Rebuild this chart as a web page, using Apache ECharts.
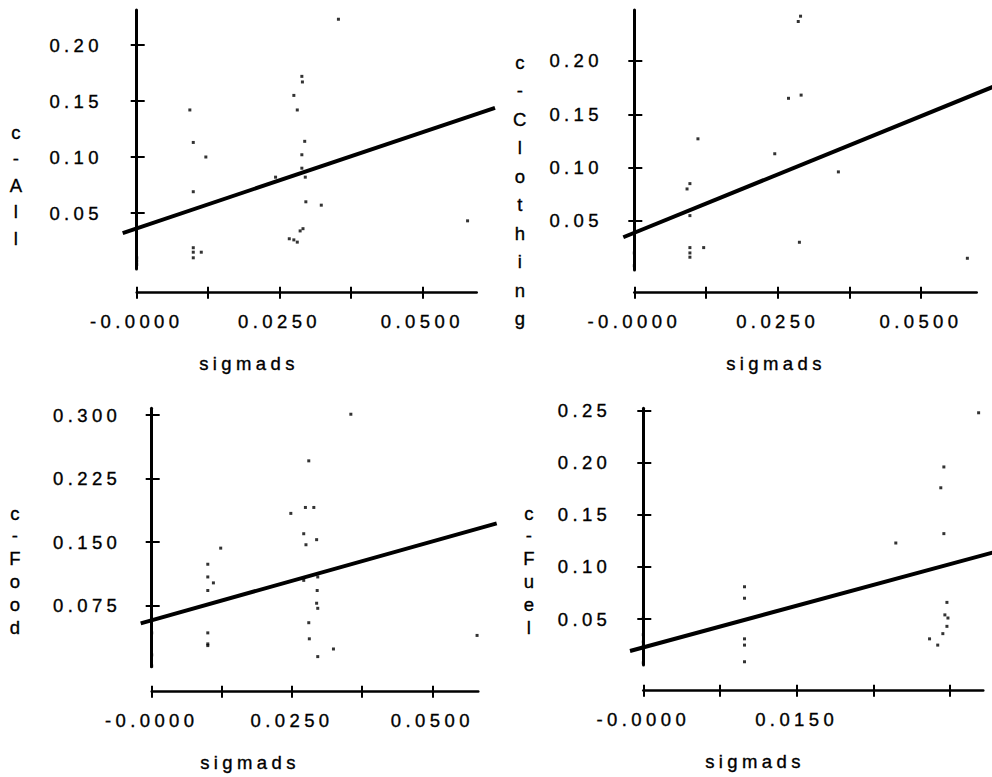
<!DOCTYPE html>
<html><head><meta charset="utf-8">
<script src="https://cdn.jsdelivr.net/npm/echarts@6/dist/echarts.min.js"></script>
<style>
html,body{margin:0;padding:0;background:#fff;}
#c{width:992px;height:777px;}
#c text{letter-spacing:4.4px;stroke:#000;stroke-width:0.35px;}
</style></head><body><div id="c"></div>
<script>
// ---------- data ----------
const sigmadsAll = [0.0353,0.0289,0.0290,0.0275,0.0281,0.0093,0.0099,0.0294,0.0121,0.0289,0.0243,0.0289,0.0295,0.0099,0.0296,0.0323,0.0579,0.0291,0.0286,0.0267,0.0275,0.0281,0.0099,0.0099,0.0099,0.0113,0,0,0];
const cAll = [0.223,0.172,0.167,0.155,0.142,0.142,0.113,0.114,0.100,0.102,0.082,0.090,0.082,0.069,0.060,0.057,0.043,0.036,0.034,0.027,0.026,0.024,0.019,0.015,0.010,0.015,0.010,0.007,0.004];
const fitAll = [[-0.00245,0.0321],[0.0627,0.1438]];

const sigmadsClothing = [0.0290,0.0286,0.0269,0.0291,0.0111,0.0245,0.0356,0.0097,0.0092,0.0097,0.0288,0.0121,0.0097,0.0097,0.0097,0,0,0.0581];
const cClothing = [0.242,0.237,0.165,0.168,0.127,0.113,0.096,0.085,0.080,0.055,0.030,0.025,0.025,0.020,0.016,0.020,0.008,0.015];
const fitClothing = [[-0.00192,0.0347],[0.0632,0.1771]];

const sigmadsFood = [0.0355,0.0280,0.0248,0.0274,0.0289,0.0271,0.0275,0.0294,0.0123,0.0100,0.0100,0.0110,0.0100,0.0271,0.0296,0.0295,0.0294,0.0296,0.0280,0.0281,0.0296,0.0324,0.0580,0.0100,0.0100,0.0100,0,0,0];
const cFood = [0.301,0.246,0.184,0.191,0.191,0.160,0.147,0.153,0.143,0.124,0.109,0.102,0.093,0.105,0.109,0.093,0.078,0.072,0.055,0.036,0.015,0.024,0.040,0.043,0.030,0.028,0.043,0.017,0.004];
const fitFood = [[-0.00196,0.0543],[0.0615,0.1723]];

const sigmadsFuel = [0.0328,0.0294,0.0291,0.0294,0.0247,0.0099,0.0099,0.0099,0.0099,0.0099,0.0297,0.0295,0.0298,0.0297,0.0293,0.0280,0.0288,0,0,0,0,0];
const cFuel = [0.248,0.196,0.176,0.132,0.123,0.081,0.070,0.031,0.025,0.009,0.066,0.054,0.051,0.043,0.036,0.031,0.025,0.051,0.035,0.028,0.024,0.008];
const fitFuel = [[-0.0013,0.0193],[0.0345,0.1147]];

// ---------- tick values and labels ----------
const yTicksAll = [0.05,0.10,0.15,0.20];
const yTicksClothing = [0.05,0.10,0.15,0.20];
const yTicksFood = [0.075,0.150,0.225,0.300];
const yTicksFuel = [0.05,0.10,0.15,0.20,0.25];
const xTicksWide = [0,0.0125,0.025,0.0375,0.05];
const xLabelValsWide = [0,0.025,0.05];
const xLabelsWide = ['-0.0000','0.0250','0.0500'];
const xTicksFuel = [0,0.0075,0.015,0.0225,0.03];
const xLabelValsFuel = [0,0.015];
const xLabelsFuel = ['-0.0000','0.0150'];
const xName = 'sigmads';
const yNames = ['c-All','c-Clothing','c-Food','c-Fuel'];

// ---------- layout ----------
const panels = [
  {xs:sigmadsAll, ys:cAll, fit:fitAll, yT:yTicksAll, yDec:2, xT:xTicksWide, xLV:xLabelValsWide, xL:xLabelsWide, yName:yNames[0],
   L:{dLeft:122.7,dTop:10,dW:372.3,dH:259,xMin:-0.00245,xMax:0.0627,yMin:0,yMax:0.23125,yOff:7.7,aLeft:136.7,aY:292.7,aW:340,aMax:0.05952,nX:18,nY:132,nP:26.5,sX:249,sY:363}},
  {xs:sigmadsClothing, ys:cClothing, fit:fitClothing, yT:yTicksClothing, yDec:2, xT:xTicksWide, xLV:xLabelValsWide, xL:xLabelsWide, yName:yNames[1],
   L:{dLeft:623.3,dTop:10,dW:373.3,dH:260,xMin:-0.00192,xMax:0.0632,yMin:0.004,yMax:0.2478,yOff:8.3,aLeft:634.3,aY:292.7,aW:342.4,aMax:0.05972,nX:522,nY:62,nP:28.5,sX:776,sY:363}},
  {xs:sigmadsFood, ys:cFood, fit:fitFood, yT:yTicksFood, yDec:3, xT:xTicksWide, xLV:xLabelValsWide, xL:xLabelsWide, yName:yNames[2],
   L:{dLeft:140.7,dTop:408.3,dW:356,dH:258.4,xMin:-0.00196,xMax:0.0615,yMin:0.0031,yMax:0.3080,yOff:7.4,aLeft:151.7,aY:691.7,aW:326.6,aMax:0.05819,nX:17,nY:513,nP:22.8,sX:250,sY:762}},
  {xs:sigmadsFuel, ys:cFuel, fit:fitFuel, yT:yTicksFuel, yDec:2, xT:xTicksFuel, xLV:xLabelValsFuel, xL:xLabelsFuel, yName:yNames[3],
   L:{dLeft:630,dTop:408.3,dW:366,dH:256.7,xMin:-0.0013,xMax:0.0345,yMin:0.0059,yMax:0.2523,yOff:6.7,aLeft:643.3,aY:690.7,aW:340,aMax:0.03326,nX:531,nY:513,nP:22.8,sX:755,sY:761}}
];

const FONT = "'Liberation Sans', Arial, sans-serif";
const FS = 18.5;
const grids = [], xAxes = [], yAxes = [], series = [], graphics = [];
const hiddenAxis = (g, min, max) => ({gridIndex:g, type:'value', min, max, show:false});

panels.forEach((p, i) => {
  const L = p.L, b = i * 4;
  const dRect = {left:L.dLeft, top:L.dTop, width:L.dW, height:L.dH, outerBoundsMode:'none', containLabel:false};
  const aRect = {left:L.aLeft, top:L.aY - 10, width:L.aW, height:10, outerBoundsMode:'none', containLabel:false};
  grids.push(dRect, Object.assign({}, dRect), aRect, Object.assign({}, aRect));

  xAxes.push(hiddenAxis(b, L.xMin, L.xMax));
  yAxes.push({gridIndex:b, type:'value', min:L.yMin, max:L.yMax, position:'left', offset:L.yOff,
    axisLine:{show:true, lineStyle:{color:'#000', width:3}},
    axisTick:{show:true, customValues:p.yT, length:6, lineStyle:{color:'#000', width:2}},
    axisLabel:{show:true, customValues:p.yT, margin:12, color:'#000', fontSize:FS, fontFamily:FONT,
      formatter:(v) => v.toFixed(p.yDec)},
    splitLine:{show:false}});
  xAxes.push(hiddenAxis(b + 1, L.xMin, L.xMax));
  yAxes.push({gridIndex:b + 1, type:'value', min:L.yMin, max:L.yMax, position:'left', offset:L.yOff,
    axisLine:{show:false}, axisLabel:{show:false}, splitLine:{show:false},
    axisTick:{show:true, inside:true, customValues:p.yT, length:8, lineStyle:{color:'#000', width:2}}});

  xAxes.push({gridIndex:b + 2, type:'value', min:0, max:L.aMax, position:'bottom',
    axisLine:{show:true, onZero:false, lineStyle:{color:'#000', width:2.5}},
    axisTick:{show:true, customValues:p.xT, length:6, lineStyle:{color:'#000', width:2}},
    axisLabel:{show:true, customValues:p.xLV, margin:19, color:'#000', fontSize:FS, fontFamily:FONT,
      formatter:(v) => {
        let k = 0, best = Infinity;
        p.xLV.forEach((t, j) => { const d = Math.abs(t - v); if (d < best) { best = d; k = j; } });
        return p.xL[k];
      }},
    splitLine:{show:false}});
  yAxes.push(hiddenAxis(b + 2, 0, 1));
  xAxes.push({gridIndex:b + 3, type:'value', min:0, max:L.aMax, position:'bottom',
    axisLine:{show:false, onZero:false}, axisLabel:{show:false}, splitLine:{show:false},
    axisTick:{show:true, inside:true, customValues:p.xT, length:6, lineStyle:{color:'#000', width:2}}});
  yAxes.push(hiddenAxis(b + 3, 0, 1));

  series.push({type:'scatter', xAxisIndex:b, yAxisIndex:b, symbol:'rect', symbolSize:3,
    itemStyle:{color:'#000'}, silent:true, animation:false,
    data:p.xs.map((x, j) => [x, p.ys[j]])});
  series.push({type:'line', xAxisIndex:b, yAxisIndex:b, showSymbol:false, symbol:'none', silent:true, animation:false,
    lineStyle:{color:'#000', width:4}, data:p.fit});

  graphics.push({type:'text', silent:true, style:{text:xName, x:L.sX, y:L.sY, textAlign:'center', textVerticalAlign:'middle',
    font:FS + 'px ' + FONT, fill:'#000'}});
  const stacked = p.yName.split('').join('\n');
  graphics.push({type:'text', silent:true, style:{text:stacked, x:L.nX, y:L.nY - L.nP / 2, textAlign:'center', textVerticalAlign:'top',
    font:FS + 'px ' + FONT, lineHeight:L.nP, fill:'#000'}});
});

const chart = echarts.init(document.getElementById('c'), null, {renderer:'svg'});
chart.setOption({
  animation:false,
  backgroundColor:'#fff',
  grid:grids, xAxis:xAxes, yAxis:yAxes, series:series, graphic:graphics
});
</script></body></html>
